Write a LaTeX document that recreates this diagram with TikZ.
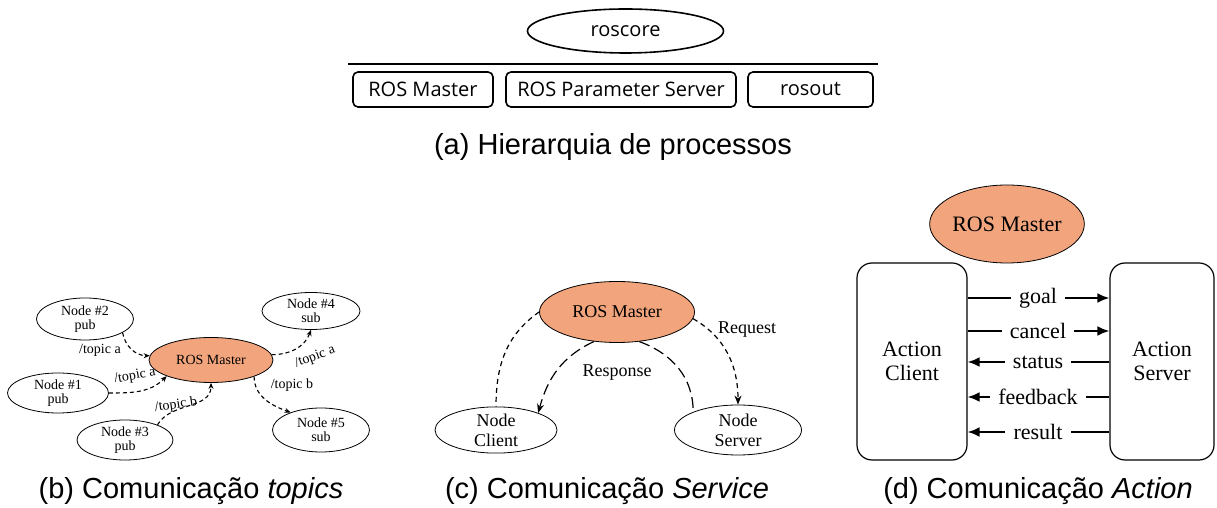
\documentclass[tikz,border=0pt]{standalone}
\usepackage{fontspec}
\setmainfont{Liberation Serif}
\newfontfamily\serfont{Liberation Serif}
\newfontfamily\capfont{Liberation Sans}
\newfontfamily\boxfont{Open Sans}
\usepackage{tikz}
\usetikzlibrary{arrows.meta,shapes.geometric}
\definecolor{rosorange}{RGB}{242,165,125}
\tikzset{
  capt/.style     = {anchor=base,font=\capfont\fontsize{29}{33}\selectfont},
  procbox/.style  = {draw,rounded corners=5pt,line width=1.6pt,minimum height=35pt,
                     inner sep=0pt,font=\boxfont\fontsize{20}{24}\selectfont},
  procell/.style  = {ellipse,draw,line width=1.6pt,inner sep=0pt,
                     font=\boxfont\fontsize{20}{24}\selectfont},
  rosnode/.style  = {ellipse,draw,line width=0.8pt,inner sep=0pt,align=center},
  master/.style   = {rosnode,fill=rosorange},
  tsmall/.style   = {font=\serfont\fontsize{14}{14}\selectfont},
  tmid/.style     = {font=\serfont\fontsize{18}{20}\selectfont},
  tbig/.style     = {font=\serfont\fontsize{22}{24}\selectfont},
  toparr/.style   = {dash pattern=on 4pt off 3pt,line width=1.1pt,-{Stealth[length=6pt,width=5pt]}},
  shortdsh/.style = {dash pattern=on 5pt off 4pt,line width=1.2pt},
  longdsh/.style  = {dash pattern=on 11pt off 5pt,line width=1.2pt},
  srvarr/.style   = {-{Stealth[length=9pt,width=7pt]}},
  actbox/.style   = {draw,rounded corners=15pt,line width=1.2pt,inner sep=0pt,align=center,
                     minimum height=197pt,tbig},
  actlbl/.style   = {inner xsep=8pt,inner ysep=0pt,tbig},
  actline/.style  = {line width=2.2pt},
  actarr/.style   = {actline,-{Latex[length=12pt,width=10pt]}}
}

\begin{document}
\begin{tikzpicture}[x=1pt,y=1pt]
\useasboundingbox (0,0) rectangle (1217,508);

% (a) process hierarchy
\node[procell,minimum width=196pt,minimum height=44pt] (core) at (625.5,477) {roscore};
\coordinate (barl) at (348,444);
\coordinate (barr) at (878,444);
\draw[line width=1.3pt] (barl) -- (barr);
\node[procbox,minimum width=140pt] (pmaster) at (423,418.5) {ROS Master};
\node[procbox,minimum width=230pt] (pparam)  at (621,418.5) {ROS Parameter Server};
\node[procbox,minimum width=125pt] (prosout) at (810.5,418.5) {rosout};
\node[capt] (capa) at (613,353) {(a) Hierarquia de processos};

% (b) topics
\node[master,tsmall,minimum width=124pt,minimum height=45pt] (mstb) at (211,148) {ROS Master};
\node[rosnode,tsmall,minimum width=97pt,minimum height=42pt]  (n2) at (85,189)  {Node \#2\\pub};
\node[rosnode,tsmall,minimum width=101pt,minimum height=40pt] (n1) at (58,115)  {Node \#1\\pub};
\node[rosnode,tsmall,minimum width=96pt,minimum height=40pt]  (n3) at (125,68)  {Node \#3\\pub};
\node[rosnode,tsmall,minimum width=98pt,minimum height=37pt]  (n4) at (311,197) {Node \#4\\sub};
\node[rosnode,tsmall,minimum width=97pt,minimum height=44pt]  (n5) at (321,78)  {Node \#5\\sub};
\draw[toparr] (n2.-20) to[out=-80,in=180] (mstb.176);
\draw[toparr] (n1.east) to[out=0,in=225] (mstb.200);
\draw[toparr] (n3.25) to[out=60,in=-90] (mstb.south);
\draw[toparr] (mstb.5) to[out=0,in=-110] (n4.south);
\draw[toparr] (mstb.-21) to[out=-90,in=160] (n5.150);
\node[tsmall] (ta2) at (100,158) {/topic a};
\node[tsmall,rotate=10] (ta1) at (135,132) {/topic a};
\node[tsmall,rotate=8]  (tb3) at (176,103) {/topic b};
\node[tsmall,rotate=20] (ta4) at (315,151) {/topic a};
\node[tsmall] (tb5) at (292,123) {/topic b};
\node[capt] (capb) at (191,9) {(b) Comunicação \textit{topics}};

% (c) service
\node[master,tmid,minimum width=155pt,minimum height=61pt] (mstc) at (617,196) {ROS Master};
\node[rosnode,tmid,minimum width=122pt,minimum height=46pt] (client) at (496,78) {Node\\Client};
\node[rosnode,tmid,minimum width=127pt,minimum height=50pt] (server) at (738,78) {Node\\Server};
\draw[shortdsh] (mstc.west) to[out=215,in=90] (client.north);
\draw[longdsh,srvarr] (mstc.232) to[out=205,in=75] (client.22);
\draw[longdsh] (mstc.-53) to[out=-20,in=90] (server.158);
\draw[shortdsh,srvarr] (mstc.-5) to[out=-30,in=90] (server.north);
\node[tmid] (req) at (747,178) {Request};
\node[tmid] (resp) at (617,135) {Response};
\node[capt] (capc) at (607,9) {(c) Comunicação \textit{Service}};

% (d) action
\node[master,tbig,minimum width=125pt,minimum height=78pt] (mstd) at (1007,284) {ROS Master};
\node[actbox,minimum width=110pt] (cli) at (912,146.5) {Action\\Client};
\node[actbox,minimum width=104pt] (srv) at (1162,146.5) {Action\\Server};
\node[actlbl] (goal)   at (1038,210) {goal};
\node[actlbl] (cancel) at (1038,177) {cancel};
\node[actlbl] (status) at (1038,146) {status};
\node[actlbl] (fback)  at (1038,111) {feedback};
\node[actlbl] (result) at (1038,76)  {result};
\draw[actline] (cli.east |- goal) -- (goal);
\draw[actarr]  (goal) -- (srv.west |- goal);
\draw[actline] (cli.east |- cancel) -- (cancel);
\draw[actarr]  (cancel) -- (srv.west |- cancel);
\draw[actarr]  (status) -- (cli.east |- status);
\draw[actline] (srv.west |- status) -- (status);
\draw[actarr]  (fback) -- (cli.east |- fback);
\draw[actline] (srv.west |- fback) -- (fback);
\draw[actarr]  (result) -- (cli.east |- result);
\draw[actline] (srv.west |- result) -- (result);
\node[capt] (capd) at (1038,9) {(d) Comunicação \textit{Action}};
\end{tikzpicture}
\end{document}
